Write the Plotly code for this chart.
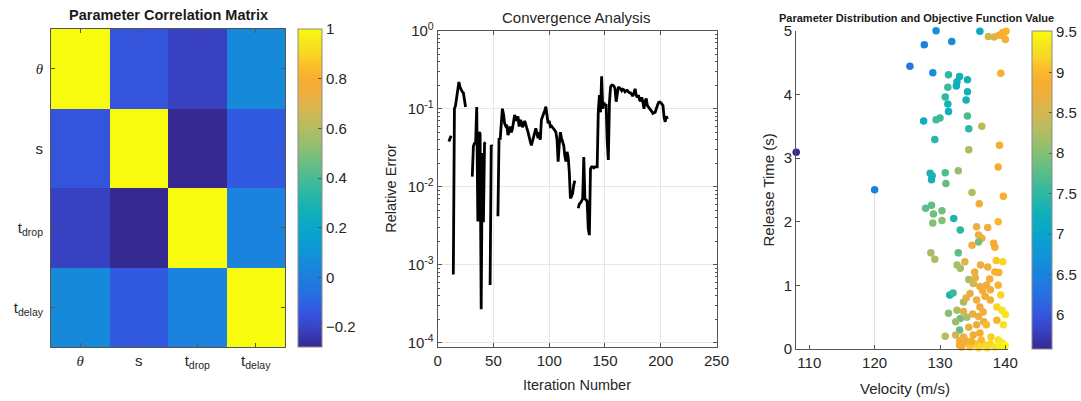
import plotly.graph_objects as go

W, H = 1081, 401

# ---------------- data ----------------
param_labels = ['<span style="font-family:Liberation Serif"><i>θ</i></span>', "s", "t<sub>drop</sub>", "t<sub>delay</sub>"]
corr_theta = [1.00, -0.15, -0.21, 0.05]
corr_s = [-0.15, 1.00, -0.28, -0.13]
corr_tdrop = [-0.21, -0.28, 1.00, 0.02]
corr_tdelay = [0.05, -0.13, 0.02, 1.00]
corr_ticks = [-0.2, 0, 0.2, 0.4, 0.6, 0.8, 1]

iter_num = [10, 11, 12, None,
            14, 15, 16, 17, 18, 19, 20, 21, 22, 23, 24, 25, None,
            31, 32, 33, 34, 35, 36, 37, 38, 39, 40, 41, 42, 43, None,
            47, 48, 49, None,
            54, 55, 56, 57, 58, 59, 60, 61, 62, 63, 64, 65, 66, 67, 68, 69, 70, 71, 72, 73, 74,
            75, 76, 77, 78, 79, 80, 81, 82, 83, 84, 85, 86, 87, 88, 89, 90, 91, 92, 93, 94,
            95, 96, 97, 98, 99, 100, 101, 102, 103, 104, 105, 106, 107, 108, 109, 110, 111,
            112, 113, 114, 115, 116, 117, 118, 119, 120, 121, 122, 123, None,
            126, 127, 128, 129, 130, 131, 132, 133, 134, 135, 136, 137, 138, 139, 140, 141,
            142, 143, 144, 145, 146, 147, 148, 149, 150, 151, 152, 153, 154, 155, 156, 157,
            158, 159, 160, 161, 162, 163, 164, 165, 166, 167, 168, 169, 170, 171, 172, 173,
            174, 175, 176, 177, 178, 179, 180, 181, 182, 183, 184, 185, 186, 187, 188, 189,
            190, 191, 192, 193, 194, 195, 196, 197, 198, 199, 200, 201, 202, 203, 204, 205, 206]
rel_error = [0.038, 0.041, 0.045, None,
             0.00075, 0.1, 0.11, 0.135, 0.17, 0.22, 0.19, 0.175, 0.165, 0.16, 0.125, 0.105, None,
             0.0135, 0.033, 0.036, 0.037, 0.105, 0.0036, 0.05, 0.048, 0.00027, 0.027, 0.0035, 0.036, 0.037, None,
             0.00055, 0.034, 0.033, None,
             0.0042, 0.042, 0.04, 0.068, 0.1, 0.085, 0.065, 0.06, 0.062, 0.046, 0.05, 0.059, 0.05, 0.055,
             0.065, 0.083, 0.075, 0.07, 0.08, 0.059, 0.072,
             0.068, 0.058, 0.062, 0.07, 0.064, 0.056, 0.05, 0.042, 0.038, 0.034, 0.038, 0.044, 0.05,
             0.056, 0.048, 0.042, 0.05, 0.04, 0.072, 0.078,
             0.087, 0.095, 0.106, 0.085, 0.065, 0.07, 0.059, 0.06, 0.056, 0.055, 0.053, 0.05, 0.04,
             0.021, 0.035, 0.05, 0.042,
             0.038, 0.034, 0.025, 0.021, 0.028, 0.024, 0.0155, 0.0071, 0.0075, 0.0083, 0.0105, 0.012, None,
             0.0053, 0.006, 0.0062, 0.0065, 0.007, 0.024, 0.007, 0.0068, 0.0065, 0.0029, 0.0024, 0.017,
             0.018, 0.018, 0.0175, 0.018,
             0.018, 0.018, 0.092, 0.15, 0.09, 0.26, 0.1, 0.12, 0.11, 0.115, 0.038, 0.022, 0.12, 0.19,
             0.2, 0.2,
             0.195, 0.18, 0.123, 0.15, 0.19, 0.185, 0.18, 0.17, 0.178, 0.175, 0.165, 0.17, 0.172,
             0.165, 0.16, 0.16,
             0.15, 0.145, 0.16, 0.18, 0.15, 0.14, 0.15, 0.13, 0.125, 0.14, 0.12, 0.1, 0.125, 0.135,
             0.11, 0.106,
             0.1, 0.096, 0.092, 0.087, 0.088, 0.09, 0.1, 0.113, 0.12, 0.122, 0.12, 0.115, 0.11,
             0.077, 0.068, 0.08, 0.074]
iter_ticks = [0, 50, 100, 150, 200, 250]
err_ticks = [1e-4, 1e-3, 1e-2, 1e-1, 1]
err_ticktext = ["10<sup>-4</sup>", "10<sup>-3</sup>", "10<sup>-2</sup>", "10<sup>-1</sup>", "10<sup>0</sup>"]

velocity = [108.0, 120.0, 125.4, 127.6, 129.4, 131.8, 128.9, 136.1, 137.4, 138.3, 139.0, 139.6,
            140.1, 140.0, 139.6, 139.3, 131.3, 133.0, 134.2, 132.6, 132.5, 131.2, 134.2, 130.8,
            134.0, 131.2, 131.3, 130.0, 129.4, 127.5, 134.2, 136.4, 134.4, 129.2, 139.1, 134.4,
            138.9, 128.5, 128.8, 128.7, 130.8, 132.8, 130.9, 134.9, 139.7, 136.0, 128.7, 127.8,
            130.3, 129.0, 132.1, 130.3, 128.9, 138.9, 133.1, 135.6, 137.3, 135.9, 136.4, 135.9,
            134.9, 138.2, 138.4, 128.6, 129.2, 132.8, 133.8, 132.6, 133.1, 135.3, 136.2, 137.3,
            138.6, 139.6, 138.4, 139.0, 134.4, 135.1, 136.1, 137.1, 137.7, 136.5, 138.9, 131.5,
            132.0, 134.6, 133.6, 135.6, 136.1, 137.7, 138.7, 139.5, 140.0, 132.6, 131.3, 133.6,
            133.1, 132.4, 134.1, 135.9, 136.7, 135.6, 137.1, 138.7, 139.7, 133.0, 134.4, 130.8,
            132.4, 133.6, 135.1, 136.1, 137.8, 138.9, 133.0, 134.1, 135.4, 136.7, 137.7, 139.5,
            140.0, 133.3, 134.6, 135.9, 138.4, 133.0, 133.8, 134.8, 136.3, 137.2, 139.2, 135.0,
            136.6, 134.0, 136.9, 139.3, 135.4, 137.6]
release_time = [3.09, 2.50, 4.44, 4.78, 5.00, 4.83, 4.34, 4.99, 4.91, 4.90, 4.93, 4.97,
                4.99, 4.86, 4.92, 4.33, 4.31, 4.28, 4.23, 4.20, 4.13, 4.11, 4.04, 3.96,
                3.91, 3.85, 3.73, 3.63, 3.60, 3.58, 3.66, 3.50, 3.46, 3.29, 3.20, 3.13,
                2.86, 2.76, 2.72, 2.66, 2.77, 2.80, 2.60, 2.46, 2.40, 2.28, 2.26, 2.21,
                2.17, 2.12, 2.05, 2.02, 1.98, 2.00, 1.87, 1.92, 1.91, 1.79, 1.74, 1.68,
                1.63, 1.66, 1.60, 1.51, 1.41, 1.51, 1.37, 1.32, 1.27, 1.21, 1.32, 1.29,
                1.39, 1.37, 1.21, 1.20, 1.09, 1.03, 0.98, 1.00, 0.93, 0.92, 1.00, 0.85,
                0.88, 0.87, 0.74, 0.77, 0.66, 0.77, 0.66, 0.61, 0.54, 0.61, 0.56, 0.59,
                0.48, 0.43, 0.50, 0.51, 0.43, 0.38, 0.38, 0.45, 0.38, 0.30, 0.34, 0.20,
                0.22, 0.19, 0.22, 0.25, 0.19, 0.14, 0.13, 0.10, 0.08, 0.07, 0.08, 0.10,
                0.05, 0.03, 0.03, 0.02, 0.03, 0.06, 0.15, 0.12, 0.14, 0.02, 0.04, 0.55,
                0.58, 0.80, 0.83, 0.85, 1.12, 1.10]
objective = [5.58, 6.45, 6.35, 6.5, 6.65, 6.6, 6.7, 7.15, 8.45, 8.6, 8.75, 8.85,
             8.95, 8.9, 8.9, 8.9, 7.5, 7.3, 7.3, 7.25, 7.2, 7.6, 7.3, 7.5,
             7.3, 7.3, 7.2, 7.6, 7.6, 7.2, 7.7, 8.35, 7.5, 7.45, 8.85, 8.2,
             8.85, 7.3, 7.35, 7.3, 7.7, 8.1, 7.8, 8.3, 8.9, 8.75, 7.8, 7.8,
             7.9, 7.9, 7.4, 8.0, 8.0, 9.0, 7.5, 8.7, 8.75, 8.8, 8.75, 7.9,
             8.75, 8.85, 8.85, 8.2, 8.2, 7.8, 8.6, 8.2, 8.2, 8.75, 8.75, 8.8,
             9.1, 9.2, 8.9, 8.9, 8.2, 8.5, 8.75, 8.75, 8.8, 8.8, 8.95, 7.3,
             7.6, 8.65, 8.2, 8.75, 8.8, 8.85, 9.2, 9.3, 9.35, 8.2, 8.0, 8.6,
             7.9, 8.1, 8.2, 8.7, 8.75, 8.7, 9.0, 8.95, 9.3, 7.8, 8.7, 8.3,
             8.5, 8.75, 8.8, 8.85, 9.15, 9.3, 8.75, 8.85, 9.1, 9.2, 9.2, 9.4,
             9.51, 8.85, 9.1, 9.2, 9.3, 8.85, 8.75, 8.9, 9.0, 9.25, 9.4, 8.7,
             8.75, 8.6, 8.8, 9.2, 8.7, 8.85]
vel_ticks = [110, 120, 130, 140]
time_ticks = [0, 1, 2, 3, 4, 5]
obj_ticks = [6, 6.5, 7, 7.5, 8, 8.5, 9, 9.5]

# ---------------- style ----------------
parula = [[0.0, "#36298f"], [0.06, "#3843c6"], [0.11, "#3457e0"], [0.17, "#2670e3"],
          [0.24, "#1a84dc"], [0.30, "#1095d6"], [0.365, "#08a5cc"], [0.43, "#12b0b8"],
          [0.49, "#2eb8a2"], [0.556, "#5abd8a"], [0.62, "#88bf74"], [0.68, "#b0bd62"],
          [0.746, "#d6b650"], [0.80, "#eeae3e"], [0.84, "#f8ac30"], [0.89, "#fcc12a"],
          [0.92, "#f8d724"], [0.952, "#f5e41d"], [1.0, "#f9fb0e"]]
FONT = "Liberation Sans, Arial, Helvetica, sans-serif"
TXT = "#262626"
AX = "#555555"


def fx(p):
    return p / W


def fy(p):
    return 1 - p / H


fig = go.Figure()

# --- panel 1: correlation heatmap ---
fig.add_trace(go.Heatmap(
    z=[corr_theta, corr_s, corr_tdrop, corr_tdelay],
    x=[0, 1, 2, 3], y=[0, 1, 2, 3],
    colorscale=parula, xaxis="x", yaxis="y",
    colorbar=dict(x=fx(298), xanchor="left", y=fy(347), yanchor="bottom",
                  len=318 / H, lenmode="fraction", thickness=24, thicknessmode="pixels",
                  outlinecolor="#8c8c8c", outlinewidth=1, ticks="inside", ticklen=4,
                  tickcolor="#555", tickvals=corr_ticks, tickfont=dict(size=15, color=TXT),
                  ypad=0, xpad=0),
    hoverinfo="skip",
))

# --- panel 2: convergence ---
fig.add_trace(go.Scatter(
    x=iter_num, y=rel_error, mode="lines", xaxis="x2", yaxis="y2",
    line=dict(color="black", width=2.8), connectgaps=False, showlegend=False,
))

# --- panel 3: scatter (faint stem under the isolated 120 m/s sample) ---
fig.add_trace(go.Scatter(
    x=[velocity[1], velocity[1]], y=[0, release_time[1]], mode="lines",
    xaxis="x3", yaxis="y3", line=dict(color="#dcdcdc", width=1),
    showlegend=False, hoverinfo="skip",
))
fig.add_trace(go.Scatter(
    x=velocity, y=release_time, mode="markers", xaxis="x3", yaxis="y3",
    cliponaxis=False, showlegend=False,
    marker=dict(size=7.5, color=objective, colorscale=parula, line=dict(width=0),
                colorbar=dict(x=fx(1032), xanchor="left", y=fy(349), yanchor="bottom",
                              len=318 / H, lenmode="fraction", thickness=20,
                              thicknessmode="pixels", outlinecolor="#8c8c8c", outlinewidth=1,
                              ticks="inside", ticklen=3, tickcolor="#555",
                              tickvals=obj_ticks, tickfont=dict(size=15, color=TXT),
                              ypad=0, xpad=0)),
))

axis_common = dict(showline=True, linecolor=AX, linewidth=1, ticks="inside",
                   tickcolor=AX, ticklen=4, tickfont=dict(size=15, color=TXT), zeroline=False,
                   automargin=False)

fig.update_layout(
    template="none",
    width=W, height=H, margin=dict(l=0, r=0, t=0, b=0, pad=0, autoexpand=False),
    paper_bgcolor="white", plot_bgcolor="white",
    font=dict(family=FONT, size=14, color=TXT),
    showlegend=False,
    xaxis=dict(domain=[fx(51), fx(285)], anchor="y", range=[-0.5, 3.5],
               tickvals=[0, 1, 2, 3], ticktext=param_labels, mirror="ticks", showgrid=False,
               **axis_common),
    yaxis=dict(domain=[fy(347), fy(29)], anchor="x", range=[3.5, -0.5],
               tickvals=[0, 1, 2, 3], ticktext=param_labels, mirror="ticks", showgrid=False,
               ticklabelstandoff=4, **axis_common),
    xaxis2=dict(domain=[fx(437.7), fx(716.5)], anchor="y2", range=[0, 250],
                tickvals=iter_ticks, mirror="ticks", showgrid=True, gridcolor="#e6e6e6",
                **axis_common),
    yaxis2=dict(domain=[fy(346.7), fy(30.7)], anchor="x2", type="log", range=[-4.05, 0],
                tickvals=err_ticks, ticktext=err_ticktext, mirror="ticks", showgrid=True,
                gridcolor="#e6e6e6",
                minor=dict(ticks="inside", ticklen=2, tickcolor=AX, dtick="D1", showgrid=False),
                **axis_common),
    xaxis3=dict(domain=[fx(796), fx(1008.3)], anchor="y3", range=[107.97, 140.45],
                tickvals=vel_ticks, showgrid=False, **axis_common),
    yaxis3=dict(domain=[fy(349), fy(30.7)], anchor="x3", range=[0, 5],
                tickvals=time_ticks, showgrid=False, **axis_common),
    annotations=[
        dict(text="<b>Parameter Correlation Matrix</b>", x=fx(168), y=fy(15), xref="paper",
             yref="paper", showarrow=False, xanchor="center", yanchor="middle",
             font=dict(size=14.5, color="#1a1a1a")),
        dict(text="Convergence Analysis", x=fx(576), y=fy(18), xref="paper", yref="paper",
             showarrow=False, xanchor="center", yanchor="middle",
             font=dict(size=15, color=TXT)),
        dict(text="<b>Parameter Distribution and Objective Function Value</b>", x=fx(917),
             y=fy(18), xref="paper", yref="paper", showarrow=False, xanchor="center",
             yanchor="middle", font=dict(size=11, color="#1a1a1a")),
        dict(text="Relative Error", x=fx(391), y=fy(188.7), xref="paper", yref="paper",
             showarrow=False, textangle=-90, xanchor="center", yanchor="middle",
             font=dict(size=14.5, color=TXT)),
        dict(text="Iteration Number", x=fx(577), y=fy(385), xref="paper", yref="paper",
             showarrow=False, xanchor="center", yanchor="middle",
             font=dict(size=14.5, color=TXT)),
        dict(text="Release Time (s)", x=fx(767.5), y=fy(190), xref="paper", yref="paper",
             showarrow=False, textangle=-90, xanchor="center", yanchor="middle",
             font=dict(size=15, color=TXT)),
        dict(text="Velocity (m/s)", x=fx(905), y=fy(388), xref="paper", yref="paper",
             showarrow=False, xanchor="center", yanchor="middle",
             font=dict(size=15, color=TXT)),
    ],
)

fig.write_html("out.html")
